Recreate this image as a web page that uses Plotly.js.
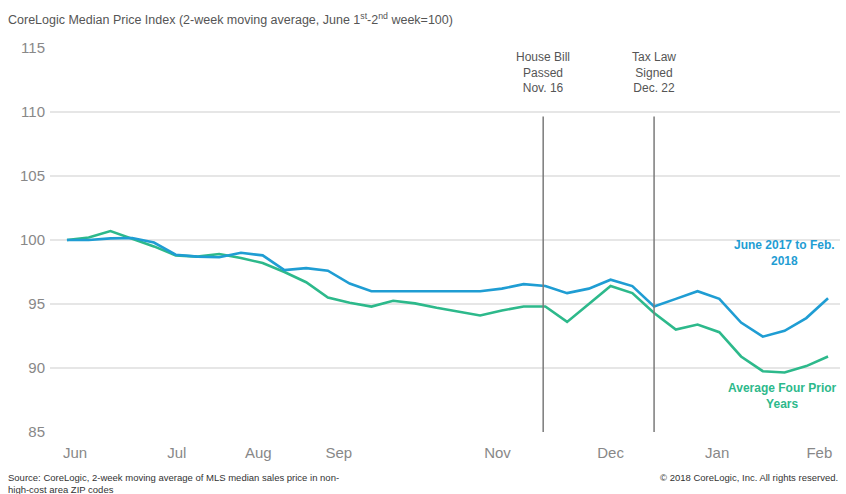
<!DOCTYPE html>
<html>
<head>
<meta charset="utf-8">
<script src="https://cdn.plot.ly/plotly-3.0.1.min.js"></script>
<style>html,body{margin:0;padding:0;background:#fff;}#chart{width:846px;height:494px;}</style>
</head>
<body>
<div id="chart"></div>
<script>
// Weekly points (index positions), June 2017 -> Feb 2018
const weekIndex = [0,1,2,3,4,5,6,7,8,9,10,11,12,13,14,15,16,17,18,19,20,21,22,23,24,25,26,27,28,29,30,31,32,33,34,35];
const current = [100, 100.0, 100.13, 100.16, 99.8, 98.85, 98.7, 98.65, 99.0, 98.8, 97.65, 97.8, 97.6, 96.6, 96.0, 96.0, 96.0, 96.0, 96.0, 96.0, 96.2, 96.55, 96.4, 95.85, 96.2, 96.9, 96.4, 94.8, 95.4, 96.0, 95.4, 93.55, 92.45, 92.9, 93.9, 95.45];
const priorAvg = [100, 100.2, 100.7, 100.1, 99.5, 98.8, 98.7, 98.9, 98.6, 98.2, 97.5, 96.7, 95.5, 95.1, 94.8, 95.25, 95.05, 94.7, 94.4, 94.1, 94.5, 94.8, 94.8, 93.6, 95.0, 96.4, 95.85, 94.3, 93.0, 93.4, 92.8, 90.9, 89.75, 89.65, 90.15, 90.9];
const monthTickPos = [0.37, 5.05, 8.8, 12.5, 19.8, 25.0, 29.9, 34.6];
const monthLabels = ["Jun", "Jul", "Aug", "Sep", "Nov", "Dec", "Jan", "Feb"];
const yTicks = [85, 90, 95, 100, 105, 110, 115];
const events = [21.9, 27.0];
const eventLabels = ["House Bill<br>Passed<br>Nov. 16", "Tax Law<br>Signed<br>Dec. 22"];

const blue = "#1f9dd3";
const green = "#2db98b";
const narrow = "'Liberation Sans Narrow', 'Arial Narrow', Arial, sans-serif";
const sans = "Arial, 'Liberation Sans', sans-serif";

const traces = [
  {x: weekIndex, y: priorAvg, type: "scatter", mode: "lines", line: {color: green, width: 2.6}, hoverinfo: "skip"},
  {x: weekIndex, y: current, type: "scatter", mode: "lines", line: {color: blue, width: 2.6}, hoverinfo: "skip"}
];

const shapes = events.map(e => ({type: "line", xref: "x", yref: "y", x0: e, x1: e, y0: 85, y1: 109.65, line: {color: "#7a7a7a", width: 1.5}}));

const annotations = [
  {xref: "paper", yref: "paper", x: -0.056, y: 1.0, xanchor: "left", yanchor: "bottom", yshift: 19, showarrow: false,
   text: "CoreLogic Median Price Index (2-week moving average, June 1<sup>st</sup>-2<sup>nd</sup> week=100)",
   font: {family: sans, size: 12.5, color: "#555"}},
  {xref: "x", yref: "y", x: events[0], y: 113.1, showarrow: false, text: eventLabels[0], align: "center",
   font: {family: sans, size: 12, color: "#555"}},
  {xref: "x", yref: "y", x: events[1], y: 113.1, showarrow: false, text: eventLabels[1], align: "center",
   font: {family: sans, size: 12, color: "#555"}},
  {xref: "x", yref: "y", x: 33.0, y: 99.0, showarrow: false, text: "<b>June 2017 to Feb.<br>2018</b>", align: "center",
   font: {family: sans, size: 12, color: blue}},
  {xref: "x", yref: "y", x: 32.9, y: 87.8, showarrow: false, text: "<b>Average Four Prior<br>Years</b>", align: "center",
   font: {family: sans, size: 12, color: green}},
  {xref: "paper", yref: "paper", x: -0.056, y: 0, xanchor: "left", yanchor: "top", yshift: -38, showarrow: false, align: "left",
   text: "Source: CoreLogic, 2-week moving average of MLS median sales price in non-<br>high-cost area ZIP codes",
   font: {family: narrow, size: 9.5, color: "#333"}},
  {xref: "paper", yref: "paper", x: 1.0, y: 0, xanchor: "right", yanchor: "top", yshift: -38, showarrow: false, align: "right",
   text: "© 2018 CoreLogic, Inc. All rights reserved.",
   font: {family: narrow, size: 9.5, color: "#333"}}
];

const layout = {
  width: 846, height: 494,
  margin: {l: 50, r: 6, t: 48, b: 62},
  paper_bgcolor: "#fff", plot_bgcolor: "#fff",
  showlegend: false,
  xaxis: {range: [-0.78, 35.55], tickvals: monthTickPos, ticktext: monthLabels, showgrid: false, zeroline: false,
          showline: false, ticks: "", tickfont: {family: narrow, size: 15, color: "#888"}, ticklabelstandoff: 10},
  yaxis: {range: [85, 115], tickvals: yTicks, showgrid: true, gridcolor: "#e6e6e6", gridwidth: 1.2, zeroline: false,
          showline: false, ticks: "", tickfont: {family: narrow, size: 15, color: "#888"}, ticklabelstandoff: 4},
  shapes: shapes,
  annotations: annotations
};

Plotly.newPlot("chart", traces, layout, {displayModeBar: false, staticPlot: true});
</script>
</body>
</html>
